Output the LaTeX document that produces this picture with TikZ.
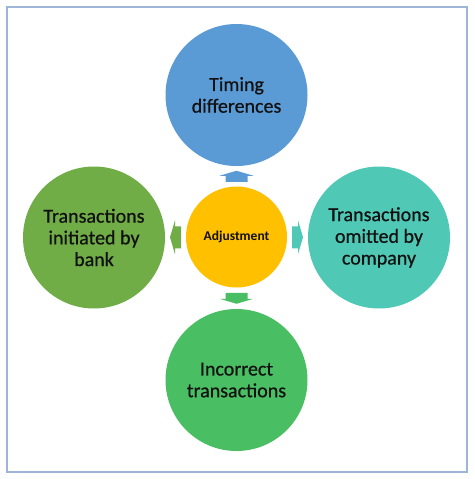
\documentclass[tikz,border=0pt]{standalone}
\usepackage{fontspec}
\setmainfont{Carlito}
\usetikzlibrary{calc}
\definecolor{cblue}{HTML}{5B9BD5}
\definecolor{corange}{HTML}{FFC000}
\definecolor{cgreenl}{HTML}{70AD47}
\definecolor{cteal}{HTML}{4FC9B6}
\definecolor{cgreenb}{HTML}{4ABE62}
\definecolor{cframe}{HTML}{9DB5D6}
\definecolor{ctext}{HTML}{111111}
\tikzset{
  big/.style={circle,minimum size=142pt,inner sep=0pt,align=center,text=ctext,
    font=\addfontfeature{FakeBold=0.6}\fontsize{20}{21.7}\selectfont},
  hub/.style={circle,minimum size=101pt,inner sep=0pt,fill=corange,text=ctext,
    font=\bfseries\fontsize{13.5}{15}\selectfont},
  barrow/.pic={\fill (-5.5,-11) -- (0.5,-11) -- (0.5,-17) -- (5.5,0) -- (0.5,17) -- (0.5,11) -- (-5.5,11) -- cycle;}
}
\begin{document}
\begin{tikzpicture}[x=1pt,y=-1pt]
\useasboundingbox (0,0) rectangle (474,479);
\fill[white] (0,0) rectangle (474,479);
\draw[cframe,line width=1.3pt] (7,7) rectangle (467,472);
\node[hub] (c) at (236.5,237) {Adjustment};
\node[big,fill=cblue] (t) at (236.5,95) {Timing\\differences};
\node[big,fill=cgreenl] (l) at (94,237.5) {Transactions\\initiated by\\bank};
\node[big,fill=cteal] (r) at (379,237.5) {Transactions\\omitted by\\company};
\node[big,fill=cgreenb] (b) at (236.5,380) {Incorrect\\transactions};
\pic[fill=cblue,rotate=90] at ($(c.north)!0.5!(t.south)$) {barrow};
\pic[fill=cgreenl,rotate=180] at ($(c.west)!0.5!(l.east)$) {barrow};
\pic[fill=cteal] at ($(c.east)!0.5!(r.west)$) {barrow};
\pic[fill=cgreenb,rotate=-90] at ($(c.south)!0.5!(b.north)$) {barrow};
\end{tikzpicture}
\end{document}
